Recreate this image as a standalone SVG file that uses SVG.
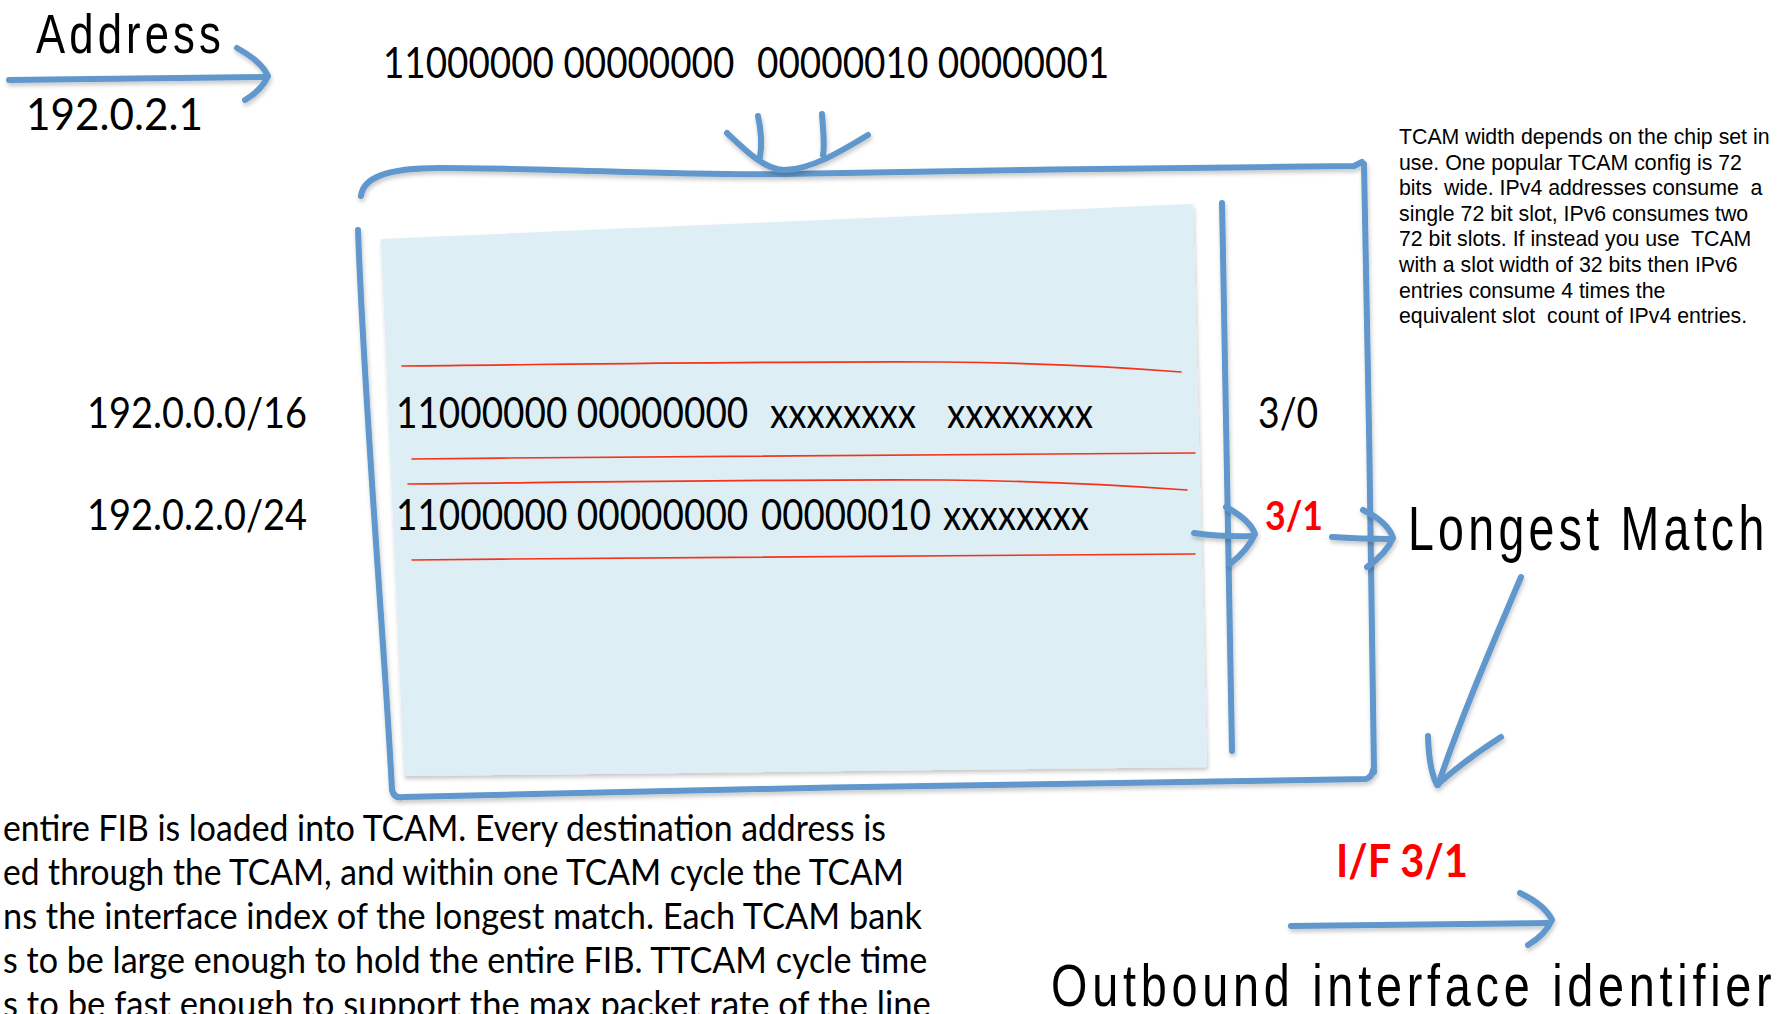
<svg xmlns="http://www.w3.org/2000/svg" width="1781" height="1014" viewBox="0 0 1781 1014">
<defs>
<filter id="sh" filterUnits="userSpaceOnUse" x="0" y="0" width="1781" height="1014">
<feDropShadow dx="1" dy="3" stdDeviation="2" flood-color="#000" flood-opacity="0.22"/>
</filter>
</defs>
<style>
.bl{fill:none;stroke:#6097cc;stroke-width:6;stroke-linecap:round;stroke-linejoin:round}
.rd{fill:none;stroke:#f5331a;stroke-width:1.6;stroke-linecap:round}
.cal{font-family:Lato,"Open Sans","Liberation Sans",sans-serif;fill:#000}
.hand{font-family:"Liberation Sans",Arial,sans-serif;fill:#000}
.ar{font-family:"Liberation Sans",Arial,sans-serif;font-size:21.3px;fill:#000}
.red{fill:#ff0000;font-weight:bold}
</style>
<rect width="1781" height="1014" fill="#fff"/>

<g id="address-input">
<text class="hand" transform="translate(36,53) scale(0.78,1)" font-size="56" textLength="237" lengthAdjust="spacing">Address</text>
<text class="cal" transform="translate(26,130) scale(0.967,1)" font-size="44" textLength="183" lengthAdjust="spacingAndGlyphs">192.0.2.1</text>
</g>

<g id="address-binary">
<text class="cal" transform="translate(383,78) scale(0.885,1)" font-size="42" textLength="397" lengthAdjust="spacingAndGlyphs">11000000 00000000</text>
<text class="cal" transform="translate(757,78) scale(0.885,1)" font-size="42" textLength="398" lengthAdjust="spacingAndGlyphs">00000010 00000001</text>
</g>

<g id="tcam">
<polygon points="381,239 1193,204 1207,767 404,776" fill="#ddeef5" filter="url(#sh)"/>
<g filter="url(#sh)">
<path class="bl" d="M361,196 C363,178 385,168 440,168 C560,168 680,176 784,174 C950,171 1200,167 1354,166 L1362,162"/>
<path class="bl" d="M1364,164 C1368,350 1372,600 1374,772"/>
<path class="bl" d="M358,230 C365,420 385,650 392,790 Q394,799 404,797 C700,790 1100,781 1366,779 Q1372,777 1373,770"/>
<path class="bl" d="M1222,203 C1226,400 1230,600 1232,751"/>
</g>
<path class="rd" d="M402,366 C600,364 800,361 943,362 C1050,363 1130,368 1181,372"/>
<path class="rd" d="M412,459 C700,456 1000,453 1195,453"/>
<path class="rd" d="M408,484 C600,482 800,479 943,480 C1050,481 1130,486 1187,490"/>
<path class="rd" d="M412,560 C700,557 1000,554 1195,554"/>
<text class="cal" transform="translate(396,428) scale(0.885,1)" font-size="42" textLength="398" lengthAdjust="spacingAndGlyphs">11000000 00000000</text>
<text class="cal" transform="translate(770,428) scale(0.885,1)" font-size="42" textLength="165" lengthAdjust="spacingAndGlyphs">xxxxxxxx</text>
<text class="cal" transform="translate(947,428) scale(0.885,1)" font-size="42" textLength="165" lengthAdjust="spacingAndGlyphs">xxxxxxxx</text>
<text class="cal" transform="translate(396,530) scale(0.885,1)" font-size="42" textLength="398" lengthAdjust="spacingAndGlyphs">11000000 00000000</text>
<text class="cal" transform="translate(761,530) scale(0.885,1)" font-size="42" textLength="192" lengthAdjust="spacingAndGlyphs">00000010</text>
<text class="cal" transform="translate(943,530) scale(0.885,1)" font-size="42" textLength="165" lengthAdjust="spacingAndGlyphs">xxxxxxxx</text>
</g>

<g id="prefixes">
<text class="cal" transform="translate(87,428) scale(0.85,1)" font-size="42" textLength="259" lengthAdjust="spacingAndGlyphs">192.0.0.0/16</text>
<text class="cal" transform="translate(87,530) scale(0.85,1)" font-size="42" textLength="259" lengthAdjust="spacingAndGlyphs">192.0.2.0/24</text>
</g>

<g id="interface-index">
<text class="cal" transform="translate(1258,428) scale(0.94,1)" font-size="42" textLength="64" lengthAdjust="spacingAndGlyphs">3/0</text>
<text class="cal red" transform="translate(1265,530) scale(0.95,1)" font-size="40" textLength="61" lengthAdjust="spacingAndGlyphs">3/1</text>
</g>

<g id="longest-match">
<text class="hand" transform="translate(1408,550) scale(0.75,1)" font-size="62" textLength="475" lengthAdjust="spacing">Longest Match</text>
</g>

<g id="tcam-note">
<text class="ar" xml:space="preserve" x="1399" y="144">TCAM width depends on the chip set in</text>
<text class="ar" xml:space="preserve" x="1399" y="169.6">use. One popular TCAM config is 72</text>
<text class="ar" xml:space="preserve" x="1399" y="195.2">bits  wide. IPv4 addresses consume  a</text>
<text class="ar" xml:space="preserve" x="1399" y="220.8">single 72 bit slot, IPv6 consumes two</text>
<text class="ar" xml:space="preserve" x="1399" y="246.4">72 bit slots. If instead you use  TCAM</text>
<text class="ar" xml:space="preserve" x="1399" y="272">with a slot width of 32 bits then IPv6</text>
<text class="ar" xml:space="preserve" x="1399" y="297.6">entries consume 4 times the</text>
<text class="ar" xml:space="preserve" x="1399" y="323">equivalent slot  count of IPv4 entries.</text>
</g>

<g id="fib-note">
<text class="cal" transform="translate(3,841) scale(0.9,1)" font-size="37" textLength="981" lengthAdjust="spacingAndGlyphs">entire FIB is loaded into TCAM. Every destination address is</text>
<text class="cal" transform="translate(3,885) scale(0.9,1)" font-size="37" textLength="1001" lengthAdjust="spacingAndGlyphs">ed through the TCAM, and within one TCAM cycle the TCAM</text>
<text class="cal" transform="translate(3,929) scale(0.9,1)" font-size="37" textLength="1021" lengthAdjust="spacingAndGlyphs">ns the interface index of the longest match. Each TCAM bank</text>
<text class="cal" transform="translate(3,973) scale(0.9,1)" font-size="37" textLength="1027" lengthAdjust="spacingAndGlyphs">s to be large enough to hold the entire FIB. TTCAM cycle time</text>
<text class="cal" transform="translate(3,1017) scale(0.9,1)" font-size="37" textLength="1031" lengthAdjust="spacingAndGlyphs">s to be fast enough to support the max packet rate of the line</text>
</g>

<g id="outbound">
<text class="cal red" transform="translate(1336,877)" font-size="46" textLength="132" lengthAdjust="spacingAndGlyphs">I/F 3/1</text>
<text class="hand" transform="translate(1051,1006) scale(0.78,1)" font-size="60" textLength="924" lengthAdjust="spacing">Outbound interface identifier</text>
</g>

<g id="connectors" filter="url(#sh)">
<path class="bl" d="M9,80 Q140,79 265,77"/>
<path class="bl" d="M237,48 Q262,62 268,76 Q262,90 245,100"/>
<path class="bl" d="M758,116 C761,130 762,145 760,157"/>
<path class="bl" d="M822,114 C823,130 825,145 823,155"/>
<path class="bl" d="M727,133 C745,150 765,170 784,170 C810,170 840,152 868,135"/>
<path class="bl" d="M1194,533 Q1222,537 1252,536"/>
<path class="bl" d="M1226,507 Q1250,520 1255,534 Q1248,550 1230,564"/>
<path class="bl" d="M1332,537 Q1360,539 1390,539"/>
<path class="bl" d="M1363,510 Q1388,522 1393,538 Q1386,554 1367,567"/>
<path class="bl" d="M1521,577 C1490,650 1460,720 1438,785"/>
<path class="bl" d="M1428,736 Q1429,770 1437,785 Q1465,760 1501,737"/>
<path class="bl" d="M1291,926 Q1420,924 1549,923"/>
<path class="bl" d="M1520,893 Q1545,905 1552,920 Q1545,935 1528,945"/>
</g>
</svg>
